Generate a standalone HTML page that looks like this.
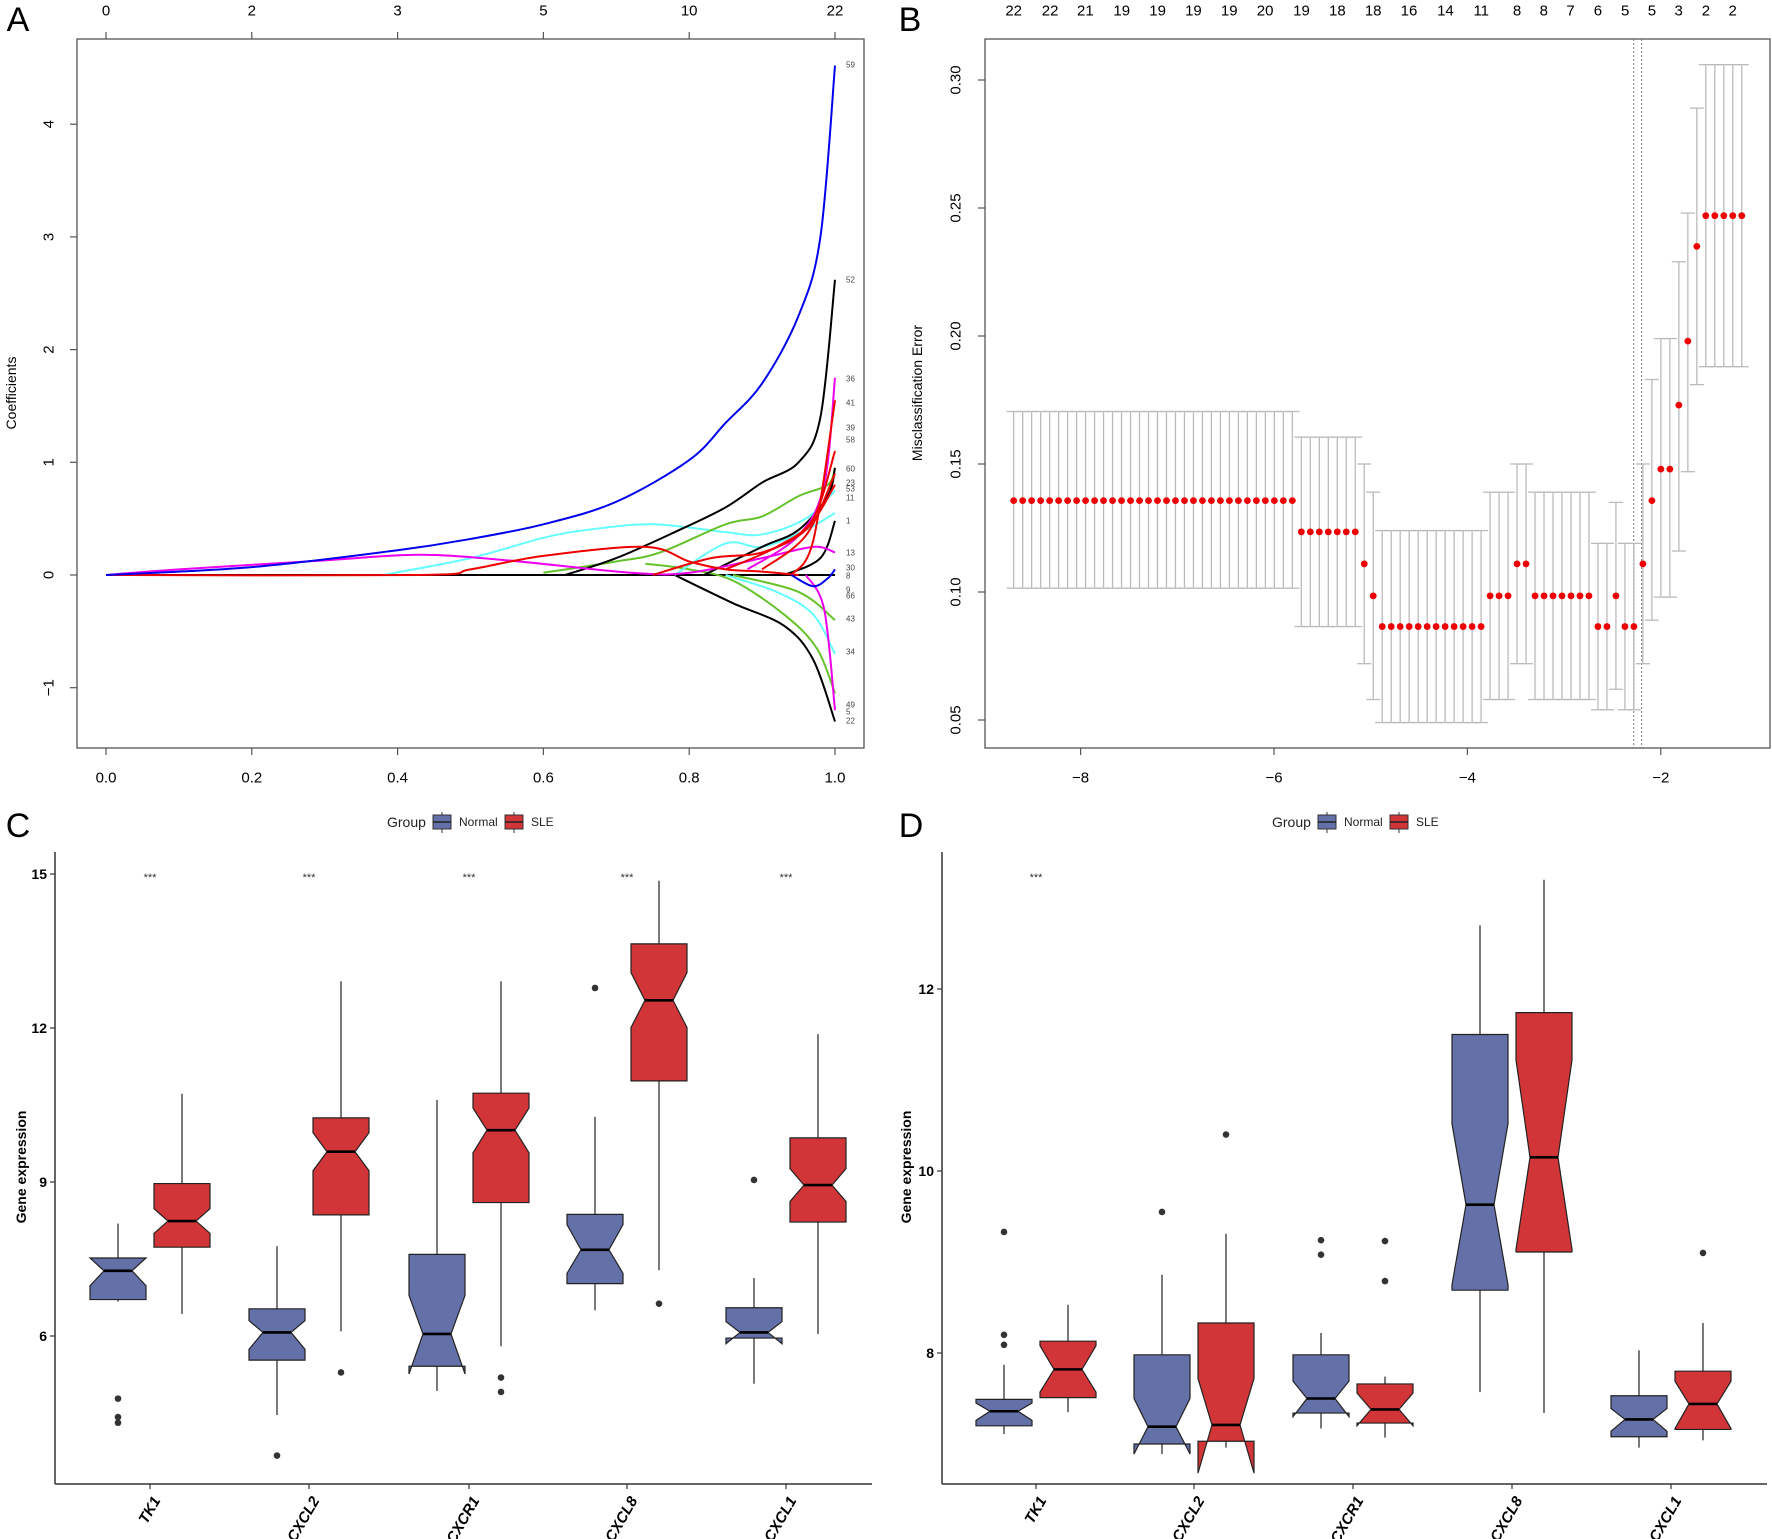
<!DOCTYPE html>
<html><head><meta charset="utf-8">
<style>html,body{margin:0;padding:0;background:#fff}svg{display:block}text{font-family:"Liberation Sans",Arial,sans-serif}</style>
</head><body>
<svg id="s" xmlns="http://www.w3.org/2000/svg" width="1772" height="1539" viewBox="0 0 1772 1539"></svg>
<script>
var S=document.getElementById('s');var h='';
function T(x,y,t,o){o=o||{};h+='<text x="'+x+'" y="'+y+'" font-size="'+(o.fs||15)+'" text-anchor="'+(o.a||'middle')+'" fill="'+(o.c||'#000')+'"'+(o.w?' font-weight="bold"':'')+(o.it?' font-style="italic"':'')+(o.r!=null?' transform="rotate('+o.r+' '+x+' '+y+')"':'')+' dominant-baseline="central">'+t+'</text>';}
function L(x1,y1,x2,y2,c,w,d){h+='<line x1="'+x1+'" y1="'+y1+'" x2="'+x2+'" y2="'+y2+'" stroke="'+(c||'#000')+'" stroke-width="'+(w||1)+'"'+(d?' stroke-dasharray="'+d+'"':'')+'/>';}
// ---------- Panel A ----------
T(18,20,'A',{fs:34});
h+='<rect x="77" y="39" width="787" height="709" fill="none" stroke="#555" stroke-width="1.3"/>';
var ax=function(t){return 106+729*t},ay=function(c){return 575-112.7*c};
[0,.2,.4,.6,.8,1].forEach(function(t){L(ax(t),748,ax(t),755,'#555',1.2);T(ax(t),778,t.toFixed(1),{fs:15});});
[[0,'0'],[0.2,'2'],[0.4,'3'],[0.6,'5'],[0.8,'10'],[1,'22']].forEach(function(p){L(ax(p[0]),39,ax(p[0]),32,'#555',1.2);T(ax(p[0]),11,p[1],{fs:15});});
[-1,0,1,2,3,4].forEach(function(c){L(77,ay(c),70,ay(c),'#555',1.2);T(49,ay(c),c==-1?'\u22121':c,{fs:15,r:-90});});
T(11,393,'Coefficients',{fs:14,r:-90});
function curve(pts,col,w){var P=pts.map(function(p){return[ax(p[0]),ay(p[1])]});var d='M'+P[0][0]+','+P[0][1];
for(var i=0;i<P.length-1;i++){var p0=P[i-1]||P[i],p1=P[i],p2=P[i+1],p3=P[i+2]||p2;
d+=' C'+(p1[0]+(p2[0]-p0[0])/6)+','+(p1[1]+(p2[1]-p0[1])/6)+' '+(p2[0]-(p3[0]-p1[0])/6)+','+(p2[1]-(p3[1]-p1[1])/6)+' '+p2[0]+','+p2[1];}
h+='<path d="'+d+'" fill="none" stroke="'+col+'" stroke-width="'+(w||2)+'"/>';}
var K='#000',R='#e00',G='#66c22a',C='#6ff',M='#e0e',B='#0000ee';
curve([[0,0],[0.78,0],[1,0]],K);
curve([[0.74,0.1],[0.8,0.05],[0.86,-0.05],[0.93,-0.35],[0.975,-0.65],[1,-1.05]],G);
curve([[0.78,0],[0.86,-0.25],[0.93,-0.45],[0.97,-0.75],[1,-1.3]],K);
curve([[0.85,0],[0.92,-0.15],[0.97,-0.35],[1,-0.7]],C);
curve([[0.86,0],[0.95,-0.15],[1,-0.4]],G);
curve([[0.96,0],[0.985,-0.3],[1,-1.2]],M);
curve([[0.38,0],[0.5,0.15],[0.6,0.33],[0.66,0.4],[0.75,0.45],[0.85,0.38],[0.9,0.36],[0.96,0.5],[1,0.75]],C);
curve([[0.78,0],[0.85,0.28],[0.9,0.25],[0.96,0.4],[1,0.55]],C);
curve([[0.6,0.02],[0.7,0.12],[0.76,0.2],[0.85,0.45],[0.9,0.52],[0.95,0.7],[0.99,0.8],[1,0.95]],G);
curve([[0.63,0],[0.7,0.15],[0.78,0.38],[0.85,0.6],[0.9,0.82],[0.95,1.0],[0.98,1.4],[1,2.62]],K);
curve([[0.82,0],[0.9,0.25],[0.95,0.4],[0.99,0.7],[1,0.95]],K);
curve([[0.93,0],[0.98,0.15],[1,0.48]],K);
curve([[0,0],[0.1,0.05],[0.3,0.13],[0.43,0.18],[0.55,0.13],[0.72,0.02],[0.8,0.02],[0.9,0.15],[0.97,0.25],[1,0.2]],M);
curve([[0.88,0.05],[0.95,0.35],[0.985,0.8],[1,1.75]],M);
curve([[0,0],[0.43,0],[0.5,0.05],[0.6,0.17],[0.74,0.25],[0.8,0.12],[0.85,0.05],[0.9,0.03],[0.95,0.0]],R);
curve([[0.75,0],[0.83,0.15],[0.9,0.2],[0.96,0.4],[1,0.8]],R);
curve([[0.85,0.05],[0.92,0.25],[0.97,0.5],[1,1.1]],R);
curve([[0.94,0],[0.97,0.3],[1,1.55]],R);
curve([[0.9,0.05],[0.96,0.35],[1,0.9]],R);
curve([[0.94,0],[0.97,-0.1],[0.99,-0.03],[1,0.05]],B);
curve([[0,0],[0.2,0.07],[0.4,0.22],[0.5,0.32],[0.6,0.45],[0.7,0.65],[0.8,1.02],[0.85,1.35],[0.9,1.7],[0.95,2.3],[0.98,3.0],[1,4.52]],B);
[['59',65],['52',280],['36',379],['41',403],['39',428],['58',440],['60',469],['23',483],['53',489],['11',498],['1',521],['13',553],['30',568],['8',576],['9',590],['66',596],['43',619],['34',652],['49',705],['5',712],['22',721]].forEach(function(p){T(846,p[1],p[0],{fs:8,a:'start',c:'#444'});});
// ---------- Panel B ----------
T(910,20,'B',{fs:34});
h+='<rect x="985" y="39" width="785" height="709" fill="none" stroke="#555" stroke-width="1.3"/>';
var by=function(v){return 80+(0.30-v)/0.05*128},bx=function(zx){return 880+zx/1.758};
[-8,-6,-4,-2].forEach(function(v){var x=1274+(v+6)*96.7;L(x,748,x,755,'#555',1.2);T(x,778,'\u2212'+(-v),{fs:15});});
[0.05,0.10,0.15,0.20,0.25,0.30].forEach(function(v){L(985,by(v),978,by(v),'#555',1.2);T(956,by(v),v.toFixed(2),{fs:15,r:-90});});
T(917,393,'Misclassification Error',{fs:14,r:-90});
var labs='22 22 21 19 19 19 19 20 19 18 18 16 14 11 8 8 7 6 5 5 3 2 2'.split(' ');
var lx=[235,299,361,425,488,551,614,677,741,804,867,930,994,1057,1120,1167,1214,1262,1310,1357,1404,1452,1499];
labs.forEach(function(t,i){T(bx(lx[i]),11,t,{fs:15});});
L(bx(1325),39,bx(1325),748,'#777',1,'2,2');L(bx(1339),39,bx(1339),748,'#777',1,'2,2');
var seg=[[32,.1357,.1015,.1705],[7,.1235,.0865,.1605],[1,.111,.072,.150],[1,.0985,.058,.139],[12,.0865,.049,.124],[3,.0985,.058,.139],[2,.111,.072,.150],[7,.0985,.058,.139],[2,.0865,.054,.119],[1,.0985,.062,.135],[2,.0865,.054,.119],[1,.111,.072,.150],[1,.1357,.089,.183],[2,.148,.098,.199],[1,.173,.116,.229],[1,.198,.147,.248],[1,.235,.181,.289],[5,.247,.188,.306]];
var pts=[];seg.forEach(function(s){for(var k=0;k<s[0];k++)pts.push(s)});
var dots='';pts.forEach(function(s,i){var x=bx(235+i*(1280/81));L(x,by(s[2]),x,by(s[3]),'#bbb',1.3);L(x-7,by(s[2]),x+7,by(s[2]),'#bbb',1.3);L(x-7,by(s[3]),x+7,by(s[3]),'#bbb',1.3);dots+='<circle cx="'+x+'" cy="'+by(s[1])+'" r="3.4" fill="#e00"/>';});
h+=dots;
// ---------- Box panels ----------
var NB='#6470a8',SB='#d23537';
function legend(gx){T(gx,822,'Group',{fs:14,a:'start',c:'#222'});
[[gx+46,NB,'Normal'],[gx+118,SB,'SLE']].forEach(function(k){L(k[0]+9,812,k[0]+9,833,'#333',1);h+='<rect x="'+k[0]+'" y="815" width="18" height="14" fill="'+k[1]+'" stroke="#333" stroke-width="1"/>';L(k[0],822,k[0]+18,822,'#222',1.5);T(k[0]+26,822,k[2],{fs:12,a:'start',c:'#222'});});}
function box(c,col,b,yf){var hw=28,l=c-hw,r=c+hw;var w=b;var Y=yf;
L(c,Y(w[0]),c,Y(w[1]),'#222',1.2);L(c,Y(w[5]),c,Y(w[6]),'#222',1.2);
var p=[[l,w[1]],[r,w[1]],[r,w[2]],[c+hw/2,w[3]],[r,w[4]],[r,w[5]],[l,w[5]],[l,w[4]],[c-hw/2,w[3]],[l,w[2]]].map(function(q){return q[0]+','+Y(q[1])}).join(' ');
h+='<polygon points="'+p+'" fill="'+col+'" stroke="#222" stroke-width="1.2"/>';L(c-hw/2,Y(w[3]),c+hw/2,Y(w[3]),'#000',2.6);
(w[7]||[]).forEach(function(o){h+='<circle cx="'+c+'" cy="'+Y(o)+'" r="3.3" fill="#333"/>';});}
// C
T(18,826,'C',{fs:34});legend(387);
var cy=function(v){return 1336-(v-6)*51.33};
L(55,852,55,1484,'#333',1.5);L(55,1484,872,1484,'#333',1.5);
[6,9,12,15].forEach(function(v){L(55,cy(v),50,cy(v),'#333',1.2);T(47,cy(v),v,{fs:14,w:1,a:'end'});});
T(21,1167,'Gene expression',{fs:14,w:1,r:-90});
var cc=[150,309,469,627,786],names=['TK1','CXCL2','CXCR1','CXCL8','CXCL1'];
var cd=[[[8.19,7.52,7.52,7.27,6.98,6.71,6.67,[4.78,4.42,4.31]],[10.72,8.97,8.48,8.24,8.0,7.73,6.43]],
[[7.75,6.53,6.3,6.07,5.74,5.53,4.46,[3.67]],[12.91,10.25,9.96,9.59,9.22,8.36,6.09,[5.29]]],
[[10.6,7.59,6.79,6.04,5.26,5.41,4.93],[12.91,10.73,10.44,10.01,9.57,8.6,5.8,[5.19,4.91]]],
[[10.27,8.37,8.17,7.68,7.22,7.02,6.5,[12.78]],[14.87,13.64,13.08,12.54,12.01,10.97,7.28,[6.63]]],
[[7.13,6.55,6.28,6.07,5.85,5.96,5.07,[9.04]],[11.88,9.86,9.26,8.94,8.62,8.22,6.04]]];
cc.forEach(function(c,i){box(c-32,NB,cd[i][0],cy);box(c+32,SB,cd[i][1],cy);L(c,1484,c,1489,'#333',1.2);T(c+7,1498,names[i],{fs:15,w:1,it:1,a:'end',r:-60});T(c,878,'***',{fs:11,c:'#333'});});
// D
T(911,826,'D',{fs:34});legend(1272);
var dy=function(v){return 1353-(v-8)*91};
L(942,852,942,1484,'#333',1.5);L(942,1484,1767,1484,'#333',1.5);
[8,10,12].forEach(function(v){L(942,dy(v),937,dy(v),'#333',1.2);T(934,dy(v),v,{fs:14,w:1,a:'end'});});
T(906,1167,'Gene expression',{fs:14,w:1,r:-90});
var dc=[1036,1194,1353,1512,1671];
var dd=[[[7.87,7.49,7.45,7.36,7.26,7.2,7.11,[9.33,8.2,8.09]],[8.53,8.13,8.08,7.82,7.57,7.51,7.35]],
[[8.86,7.98,7.5,7.19,6.89,7.0,6.89,[9.55]],[9.31,8.33,7.72,7.21,6.68,7.03,6.96,[10.4]]],
[[8.22,7.98,7.69,7.5,7.3,7.34,7.17,[9.24,9.08]],[7.74,7.66,7.56,7.38,7.2,7.23,7.07,[9.23,8.79]]],
[[12.7,11.5,10.52,9.63,8.75,8.69,7.57],[13.2,11.74,11.22,10.15,9.14,9.11,7.34]],
[[8.03,7.53,7.39,7.27,7.14,7.08,6.96],[8.33,7.8,7.69,7.44,7.17,7.16,7.04,[9.1]]]];
dc.forEach(function(c,i){box(c-32,NB,dd[i][0],dy);box(c+32,SB,dd[i][1],dy);L(c,1484,c,1489,'#333',1.2);T(c+7,1498,names[i],{fs:15,w:1,it:1,a:'end',r:-60});});
T(1036,878,'***',{fs:11,c:'#333'});
S.innerHTML=h;
</script>
</body></html>
